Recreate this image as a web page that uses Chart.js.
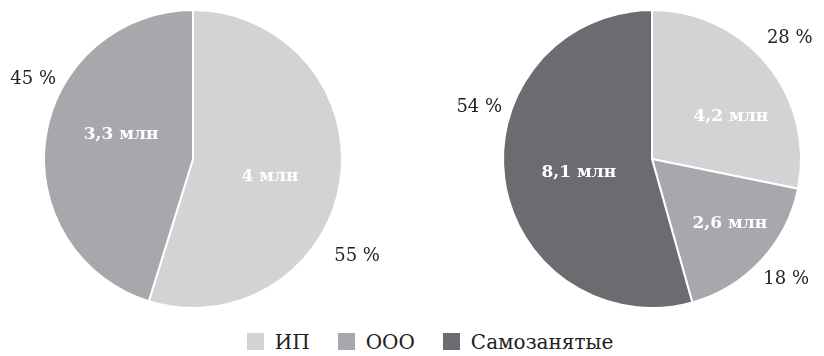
<!DOCTYPE html>
<html lang="ru">
<head>
<meta charset="utf-8">
<script src="https://cdn.jsdelivr.net/npm/chart.js"></script>
<style>
  html, body { margin: 0; padding: 0; background: #fff; overflow: hidden; }
  body { width: 824px; height: 356px; position: relative; font-family: 'DejaVu Serif', serif; }
  .pie { position: absolute; top: 0; height: 318px; }
  #pie-left { left: 0; width: 386px; }
  #pie-right { left: 420px; width: 464px; }
  .legend { position: absolute; top: 330px; left: 18px; width: 824px; text-align: center; font-size: 20px; color: #222; }
  .legend span { display: inline-block; margin: 0 14px; }
  .legend i { display: inline-block; width: 17px; height: 17px; margin-right: 11px; vertical-align: -1px; }
</style>
</head>
<body>
<div class="pie" id="pie-left"><canvas id="chart-left"></canvas></div>
<div class="pie" id="pie-right"><canvas id="chart-right"></canvas></div>
<div class="legend" id="legend"></div>

<script>
// Series names and shades
const categories = ['ИП', 'ООО', 'Самозанятые'];
const colors = ['#d2d3d5', '#a7a8ab', '#6b6c70'];

// Left pie: ИП and ООО (millions)
const leftValues = [4, 3.3];
const leftValueLabels = ['4 млн', '3,3 млн'];
const leftPercentLabels = ['55 %', '45 %'];

// Right pie: ИП, ООО, Самозанятые (millions)
const rightValues = [4.2, 2.6, 8.1];
const rightValueLabels = ['4,2 млн', '2,6 млн', '8,1 млн'];
const rightPercentLabels = ['28 %', '18 %', '54 %'];

// Draws the value inside each slice and the share outside it
const sliceLabels = {
  id: 'sliceLabels',
  afterDatasetsDraw(chart, args, opts) {
    const ctx = chart.ctx;
    const meta = chart.getDatasetMeta(0);
    ctx.save();
    ctx.textAlign = 'center';
    ctx.textBaseline = 'middle';
    meta.data.forEach((arc, i) => {
      const p = arc.getProps(['x', 'y', 'startAngle', 'endAngle', 'outerRadius'], true);
      const mid = (p.startAngle + p.endAngle) / 2;
      const deg = Math.PI / 180;

      const a1 = mid + opts.innerShift[i] * deg;
      const r1 = p.outerRadius * opts.innerDist[i];
      ctx.font = 'bold 17px "DejaVu Serif", serif';
      ctx.fillStyle = '#ffffff';
      ctx.fillText(opts.inner[i], p.x + Math.cos(a1) * r1, p.y + Math.sin(a1) * r1);

      const a2 = mid + opts.outerShift[i] * deg;
      const r2 = p.outerRadius * opts.outerDist[i];
      ctx.font = '18px "DejaVu Serif", serif';
      ctx.fillStyle = '#222222';
      ctx.fillText(opts.outer[i], p.x + Math.cos(a2) * r2, p.y + Math.sin(a2) * r2);
    });
    ctx.restore();
  }
};

function makePie(canvasId, values, labelOpts) {
  return new Chart(document.getElementById(canvasId), {
    type: 'pie',
    data: {
      labels: categories.slice(0, values.length),
      datasets: [{
        data: values,
        backgroundColor: colors.slice(0, values.length),
        borderColor: '#ffffff',
        borderWidth: 2
      }]
    },
    options: {
      responsive: true,
      maintainAspectRatio: false,
      animation: false,
      layout: { padding: 9 },
      plugins: {
        legend: { display: false },
        tooltip: { enabled: false },
        sliceLabels: labelOpts
      }
    },
    plugins: [sliceLabels]
  });
}

makePie('chart-left', leftValues, {
  inner: leftValueLabels,
  outer: leftPercentLabels,
  innerShift: [4, 10],
  innerDist: [0.53, 0.51],
  outerShift: [22, 18],
  outerDist: [1.28, 1.2]
});

makePie('chart-right', rightValues, {
  inner: rightValueLabels,
  outer: rightPercentLabels,
  innerShift: [11, -3, -3],
  innerDist: [0.6, 0.68, 0.5],
  outerShift: [-2, -1, 24.5],
  outerDist: [1.23, 1.21, 1.21]
});

// Shared legend
const legend = document.getElementById('legend');
categories.forEach((name, i) => {
  const item = document.createElement('span');
  item.innerHTML = '<i style="background:' + colors[i] + '"></i>' + name;
  legend.appendChild(item);
});
</script>
</body>
</html>
